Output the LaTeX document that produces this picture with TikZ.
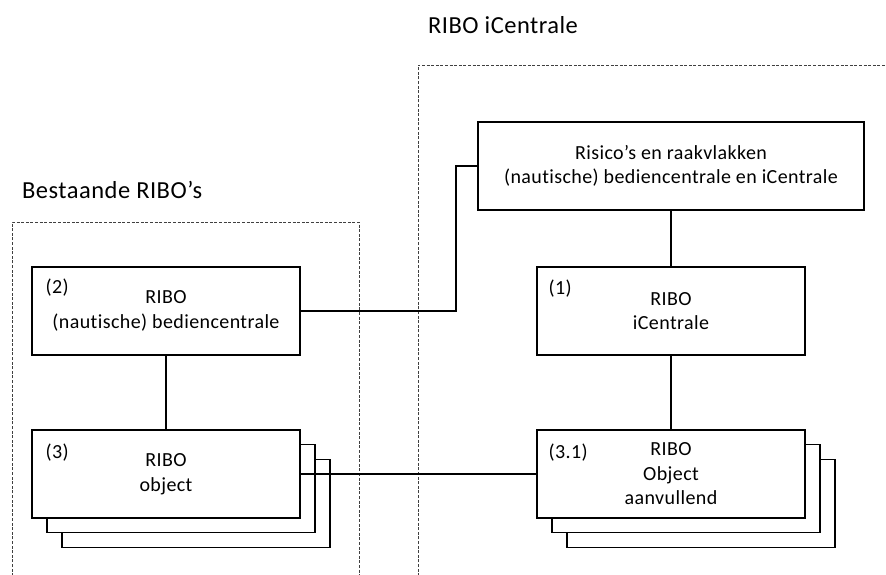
\documentclass[tikz,border=0pt]{standalone}
\usepackage{fontspec}
\setmainfont[Ligatures=NoCommon,LetterSpace=2]{Carlito}
\begin{document}
\begin{tikzpicture}[x=1pt,y=-1pt,
  box/.style={draw=black,line width=1.1pt,fill=white,rectangle,inner sep=0pt,
    minimum width=268pt,minimum height=88pt,align=center,
    font=\fontsize{20}{24.5}\selectfont},
  tag/.style={anchor=west,inner sep=0pt,font=\fontsize{20}{24.5}\selectfont},
  title/.style={anchor=west,inner sep=0pt,font=\fontsize{24.5}{28}\selectfont},
  group/.style={draw=black!75,line width=0.8pt,dash pattern=on 3pt off 1.6pt},
  link/.style={draw=black,line width=1.1pt}]
\useasboundingbox (0,0) rectangle (886,574);
\begin{scope}
\clip (0,0) rectangle (886,574);
\draw[group] (12,590) -- (12,222) -- (359,222) -- (359,590);
\draw[group] (418,590) -- (418,65) -- (900,65);
\end{scope}
\node[title] (t1) at (22,190) {Bestaande RIBO’s};
\node[title] (t2) at (428,25) {RIBO iCentrale};
% top box
\node[box,minimum width=386pt] (top) at (671,166) {Risico’s en raakvlakken\\(nautische) bediencentrale en iCentrale};
% (2)
\node[box] (b2) at (166,311) {RIBO\\(nautische) bediencentrale};
\node[tag] (l2) at ([xshift=14pt,yshift=-21pt]b2.north west) {(2)};
% (1)
\node[box] (b1) at (671,311) {RIBO\\iCentrale};
\node[tag] (l1) at ([xshift=12pt,yshift=-22pt]b1.north west) {(1)};
% (3) stack
\node[box] (s3b) at (196,503.5) {};
\node[box] (s3a) at (181,488.5) {};
\node[box] (b3) at (166,474) {RIBO\\object};
\node[tag] (l3) at ([xshift=14pt,yshift=-23pt]b3.north west) {(3)};
% (3.1) stack
\node[box] (s31b) at (701,503.5) {};
\node[box] (s31a) at (686,488.5) {};
\node[box] (b31) at (671,474) {RIBO\\Object\\aanvullend};
\node[tag] (l31) at ([xshift=12pt,yshift=-23pt]b31.north west) {(3.1)};
% connectors
\coordinate (k) at (456,0);
\draw[link] (b2.east) -- (b2.east -| k) |- (top.west);
\draw[link] (b2.south) -- (b3.north);
\draw[link] (top.south) -- (b1.north);
\draw[link] (b1.south) -- (b31.north);
\draw[link] (b3.east) -- (b31.west);
\end{tikzpicture}
\end{document}
